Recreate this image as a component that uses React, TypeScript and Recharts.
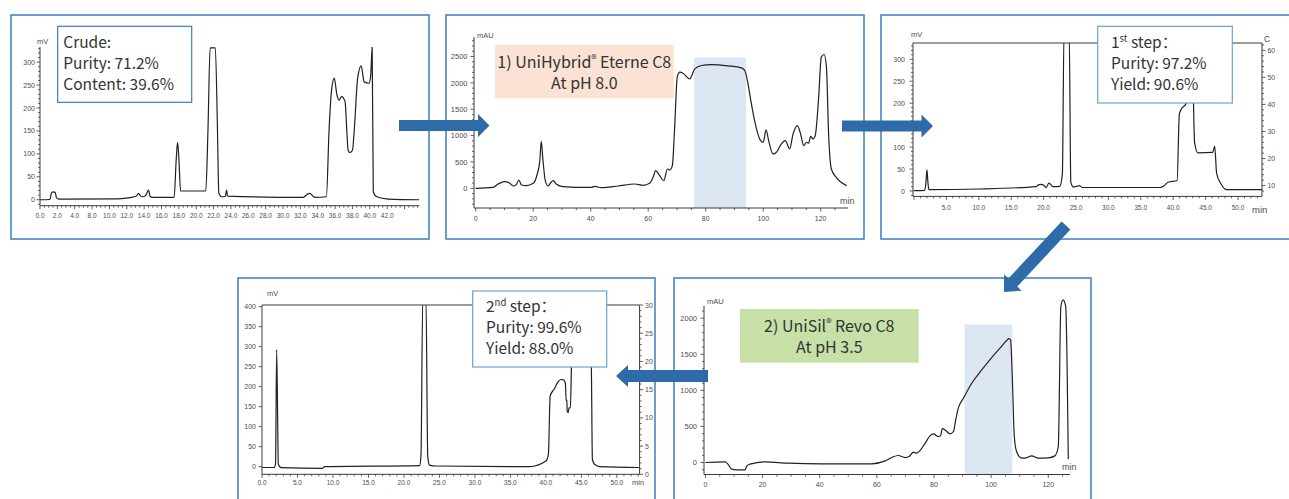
import React from 'react';
import { LineChart, Line, XAxis, YAxis, ReferenceArea, ReferenceLine } from 'recharts';

// ---------- Panel 1: crude (x in tick-position units; labels as printed) ----------
const crudeTime = [0, 1.15, 1.3, 1.5, 1.75, 1.9, 2.2, 9, 10.4, 11.1, 11.35, 11.6, 11.9, 12.2, 12.5, 12.7, 13, 15.45, 15.7, 15.85, 16, 16.2, 19.1, 19.35, 19.6, 20.2, 20.45, 20.6, 20.9, 21.35, 21.5, 21.6, 30.3, 30.8, 31.1, 31.5, 31.7, 33.0, 33.3, 33.6, 33.9, 34.2, 34.45, 34.75, 35.15, 35.35, 35.5, 35.7, 36.0, 36.2, 36.6, 37.0, 37.35, 37.9, 38.1, 38.27, 38.4, 38.8, 40.1, 43.7];
const crudeSignal = [0, 0.5, 14, 17, 16, 4, 1.5, 2, 4.5, 8, 14, 8, 6.5, 10, 21, 7, 5, 5, 90, 125, 90, 19, 19, 150, 331, 331, 150, 15, 6.5, 7, 21, 8, 5, 12, 14, 7, 5, 6.5, 150, 240, 265, 230, 217, 225, 214, 150, 108, 103, 108, 150, 265, 292, 257, 254, 270, 333, 17, 6.5, 1.5, 0];
const crudeTickLabels = ['0.0', '2.0', '4.0', '8.0', '10.0', '12.0', '14.0', '16.0', '18.0', '20.0', '22.0', '24.0', '26.0', '28.0', '30.0', '32.0', '34.0', '36.0', '38.0', '40.0', '42.0'];

// ---------- Panel 2: UniHybrid Eterne C8 prep ----------
const hybTime = [0, 6, 7.8, 10, 11.8, 13, 14.1, 15, 15.9, 17.6, 20, 21.4, 22.3, 22.8, 23.4, 24.2, 25.2, 26, 26.9, 28, 30.4, 35.6, 40.2, 41.4, 43.7, 49.5, 55.3, 58.2, 60.5, 61.7, 62.6, 64, 65.4, 66.7, 67.5, 68.4, 69.2, 70.1, 71, 72.1, 74.4, 76.2, 78.5, 82, 87.8, 92.4, 93.6, 94.5, 95.7, 97, 99.1, 100, 101, 101.9, 103.4, 104.6, 106.3, 107.7, 109.2, 110.4, 111.9, 113, 114.1, 115, 115.8, 116.5, 117.3, 118.1, 119.3, 120.2, 121.2, 122, 122.8, 123.7, 125.4, 129];
const hybSignal = [0, 19, 82, 127, 100, 44, 70, 158, 63, 51, 95, 272, 525, 893, 525, 146, 44, 101, 146, 82, 32, 19, 19, 38, 13, 44, 82, 57, 95, 209, 335, 240, 146, 367, 348, 430, 1158, 2108, 2203, 2184, 2076, 2266, 2330, 2348, 2323, 2285, 2234, 2045, 1665, 1285, 905, 874, 1108, 905, 652, 684, 842, 905, 747, 1032, 1190, 1032, 810, 874, 855, 988, 937, 1000, 1728, 2488, 2538, 2298, 968, 367, 209, 51];
const hybCut = [76, 94, 2480];

// ---------- Panel 3: 1st step analysis ----------
const step1Time = [0, 1.65, 1.85, 2.0, 2.15, 2.3, 10, 18.9, 19.2, 19.6, 20.1, 20.4, 20.8, 21.1, 21.4, 22.5, 22.9, 23.15, 23.95, 24.2, 24.6, 25.2, 25.5, 26, 37.9, 38.6, 39.2, 40.6, 40.95, 41.2, 42, 42.5, 43, 43.3, 43.8, 46.1, 46.4, 46.7, 47.3, 48.2, 53.7];
const step1Signal = [1, 1.5, 20, 48, 20, 3, 4.5, 10, 14, 15, 12, 7.6, 18, 15, 10, 10.6, 40, 360, 360, 20, 9, 11, 12, 8, 8, 12, 20, 24, 175, 185, 200, 260, 260, 110, 87, 88, 102, 40, 18, 3, 3];

// ---------- Panel 4: 2nd step analysis ----------
const step2Time = [0, 1.7, 1.9, 2.07, 2.3, 2.7, 8.55, 8.8, 22.2, 22.4, 22.65, 23.1, 23.35, 23.6, 24.5, 37.7, 40.0, 40.35, 40.6, 41.2, 41.7, 42.1, 42.5, 42.75, 42.85, 42.95, 43.0, 43.15, 43.25, 43.45, 43.6, 44.2, 45.8, 46.4, 46.55, 46.85, 47.6, 53.2];
const step2Signal = [-2, -2, 6, 293, 6, -2.5, -4, 0, 2.5, 27, 420, 420, 27, 4, 1.7, 0, 14, 30, 177, 195, 212, 218, 217, 208, 165, 167, 139, 135, 147, 147, 250, 420, 420, 249, 18, 6, 0, -2];

// ---------- Panel 5: UniSil Revo C8 prep ----------
const revoTime = [0, 6.9, 7.8, 9.2, 11, 13.9, 14.5, 15.6, 20.9, 29, 40.7, 58.2, 62.9, 65.2, 67.5, 69.9, 71.3, 72.8, 73.9, 75.1, 76.9, 78.6, 79.8, 81.5, 82.3, 82.9, 84.1, 85.6, 86.8, 87.6, 88.5, 90.3, 93.2, 96.7, 100.2, 103.1, 105.4, 106.2, 106.8, 107.4, 108.1, 108.9, 110.7, 111.8, 114.2, 116.5, 120, 122.3, 123.5, 124.4, 125.2, 126.1, 127];
const revoSignal = [0, 9, -18, -92, -102, -102, -46, -23, 9, -9, -18, -18, 23, 69, 97, 69, 83, 143, 129, 166, 268, 370, 397, 360, 370, 471, 443, 397, 430, 591, 753, 891, 1099, 1284, 1455, 1584, 1691, 1718, 1700, 1192, 360, 152, 60, 60, 92, 60, 65, 92, 222, 2162, 2254, 2162, 46];
const revoCut = [90.7, 107.4, 1912];

// ---------- text ----------
const crudeLines = ['Crude:', 'Purity: 71.2%', 'Content: 39.6%'];
const step1Lines = ['Purity: 97.2%', 'Yield: 90.6%'];
const step2Lines = ['Purity: 99.6%', 'Yield: 88.0%'];

const AX = '#3a3a3a';
const LINE = '#231f20';
const TICK = '#4d4d4d';
const TF = '"Liberation Sans", Arial, sans-serif';
const BF = '"Noto Sans CJK SC", "Noto Sans", sans-serif';
const BLUE = '#3a7fc2';
const LIGHTBLUE = '#66a3d9';
const ARROW = '#2e6ba8';
const SHADE = '#dce7f3';

const rows = (t: number[], v: number[]) => t.map((x, i) => ({ t: x, v: v[i] }));
const steps = (a: number, b: number, s: number) => {
  const out: number[] = [];
  for (let k = 0; a + k * s <= b + 1e-9; k++) out.push(Math.round((a + k * s) * 1000) / 1000);
  return out;
};
const isMult = (v: number, m: number) => Math.abs(v / m - Math.round(v / m)) < 1e-6;

type Lab = (v: number) => string | null;

function makeTick(side: 'left' | 'right' | 'bottom', label: Lab, fs: number, gap: number) {
  return (props: any) => {
    const { x, y, payload } = props;
    const text = label(payload.value);
    const major = text !== null;
    const len = major ? 3.5 : 2;
    if (side === 'left') {
      return (
        <g>
          <line x1={x} y1={y} x2={x - len} y2={y} stroke={AX} strokeWidth={0.8} />
          {major && text !== '' && (
            <text x={x - gap} y={y + fs * 0.36} textAnchor="end" fontSize={fs} fill={TICK} fontFamily={TF}>{text}</text>
          )}
        </g>
      );
    }
    if (side === 'right') {
      return (
        <g>
          <line x1={x} y1={y} x2={x + len} y2={y} stroke={AX} strokeWidth={0.8} />
          {major && text !== '' && (
            <text x={x + gap} y={y + fs * 0.36} textAnchor="start" fontSize={fs} fill={TICK} fontFamily={TF}>{text}</text>
          )}
        </g>
      );
    }
    return (
      <g>
        <line x1={x} y1={y} x2={x} y2={y + len} stroke={AX} strokeWidth={0.8} />
        {major && text !== '' && (
          <text x={x} y={y + gap} textAnchor="middle" fontSize={fs * 0.93} fill={TICK} fontFamily={TF}>{text}</text>
        )}
      </g>
    );
  };
}

interface PanelProps {
  rect: { x: number; y: number; w: number; h: number };
  data: { t: number; v: number }[];
  xDomain: [number, number];
  yDomain: [number, number];
  xTicks: number[];
  xLabel: Lab;
  yTicks: number[];
  yLabel: Lab;
  rDomain?: [number, number];
  rTicks?: number[];
  rLabel?: Lab;
  frameTop?: boolean;
  shade?: number[];
  yAxisTop?: number;
  fs: number;
  xGap: number;
  yGap: number;
}

function Panel(p: PanelProps) {
  const L = 40, T = 10, B = 26;
  const R = p.rDomain ? 40 : 6;
  return (
    <div style={{ position: 'absolute', left: p.rect.x - L, top: p.rect.y - T }}>
      <LineChart
        width={L + p.rect.w + R}
        height={T + p.rect.h + B}
        data={p.data}
        margin={{ top: T, right: p.rDomain ? 0 : R, bottom: 0, left: 0 }}
      >
        <XAxis
          dataKey="t" type="number" domain={p.xDomain} allowDataOverflow ticks={p.xTicks} interval={0}
          tickSize={0} tickMargin={0} tickLine={false} axisLine={{ stroke: AX, strokeWidth: 1 }} height={B}
          tick={makeTick('bottom', p.xLabel, p.fs, p.xGap)}
        />
        <YAxis
          yAxisId="l" type="number" domain={p.yDomain} allowDataOverflow ticks={p.yTicks} interval={0}
          tickSize={0} tickMargin={0} tickLine={false}
          axisLine={p.yAxisTop === undefined ? { stroke: AX, strokeWidth: 1 } : false} width={L}
          tick={makeTick('left', p.yLabel, p.fs, p.yGap)}
        />
        {p.rDomain && (
          <YAxis
            yAxisId="r" orientation="right" type="number" domain={p.rDomain} allowDataOverflow ticks={p.rTicks} interval={0}
            tickSize={0} tickMargin={0} tickLine={false} axisLine={{ stroke: AX, strokeWidth: 1 }} width={R}
            tick={makeTick('right', p.rLabel as Lab, p.fs, 5.5)}
          />
        )}
        {p.shade && (
          <ReferenceArea yAxisId="l" x1={p.shade[0]} x2={p.shade[1]} y1={p.yDomain[0]} y2={p.shade[2]} fill={SHADE} fillOpacity={1} stroke="none" />
        )}
        {p.frameTop && <ReferenceLine yAxisId="l" y={p.yDomain[1]} stroke={AX} strokeWidth={1} />}
        {p.yAxisTop !== undefined && (
          <ReferenceLine
            yAxisId="l"
            segment={[{ x: p.xDomain[0], y: p.yDomain[0] }, { x: p.xDomain[0], y: p.yAxisTop }]}
            stroke={AX} strokeWidth={1}
          />
        )}
        <Line yAxisId="l" dataKey="v" type="monotone" stroke={LINE} strokeWidth={1.2} dot={false} isAnimationActive={false} />
      </LineChart>
    </div>
  );
}

function arrowPts(x1: number, y1: number, x2: number, y2: number, sw: number, hw: number, hl: number) {
  const dx = x2 - x1, dy = y2 - y1, len = Math.hypot(dx, dy);
  const ux = dx / len, uy = dy / len, nx = -uy, ny = ux;
  const bx = x2 - ux * hl, by = y2 - uy * hl;
  const pts = [
    [x1 + nx * sw, y1 + ny * sw], [bx + nx * sw, by + ny * sw], [bx + nx * hw, by + ny * hw], [x2, y2],
    [bx - nx * hw, by - ny * hw], [bx - nx * sw, by - ny * sw], [x1 - nx * sw, y1 - ny * sw],
  ];
  return pts.map((q) => q.map((n) => n.toFixed(1)).join(',')).join(' ');
}

const unit = (x: number, y: number, s: string, fs = 7.5) => (
  <text x={x} y={y} fontSize={fs} fill={TICK} fontFamily={TF}>{s}</text>
);

export default function App() {
  return (
    <div style={{ position: 'absolute', left: 0, top: 0, width: 1289, height: 499, background: '#fff', overflow: 'hidden' }}>
      <Panel
        rect={{ x: 40, y: 47, w: 379.3, h: 158.7 }}
        data={rows(crudeTime, crudeSignal)}
        xDomain={[0, 43.7]} yDomain={[-13, 333]}
        xTicks={steps(0, 43.5, 0.5)}
        xLabel={(v) => (isMult(v, 2) ? (v <= 40 ? crudeTickLabels[Math.round(v / 2)] : '') : null)}
        yTicks={steps(-10, 330, 10)}
        yLabel={(v) => (isMult(v, 50) && v >= 0 ? String(v) : null)}
        fs={7} xGap={12} yGap={5}
      />
      <Panel
        rect={{ x: 474, y: 37, w: 374, h: 171 }}
        data={rows(hybTime, hybSignal)}
        xDomain={[-0.6, 129.5]} yDomain={[-373, 2870]}
        xTicks={steps(0, 125, 5)}
        xLabel={(v) => (isMult(v, 20) ? String(v) : null)}
        yTicks={steps(-300, 2800, 100)}
        yLabel={(v) => (isMult(v, 500) && v >= 0 ? String(v) : null)}
        shade={hybCut}
        fs={7.5} xGap={13} yGap={6.5}
      />
      <Panel
        rect={{ x: 913.3, y: 43.3, w: 349, h: 153.4 }}
        data={rows(step1Time, step1Signal)}
        xDomain={[-0.15, 53.7]} yDomain={[-12.3, 337]}
        xTicks={steps(0, 53, 1)}
        xLabel={(v) => (isMult(v, 5) ? (v > 0 ? v.toFixed(1) : '') : null)}
        yTicks={steps(-10, 330, 10)}
        yLabel={(v) => (isMult(v, 50) && v >= 0 ? String(v) : null)}
        rDomain={[6, 62.7]} rTicks={steps(8, 62, 2)}
        rLabel={(v) => (isMult(v, 10) ? String(v) : null)}
        frameTop
        fs={7} xGap={14} yGap={8}
      />
      <Panel
        rect={{ x: 261.7, y: 305, w: 377.6, h: 169.3 }}
        data={rows(step2Time, step2Signal)}
        xDomain={[0, 53.2]} yDomain={[-19, 404.25]}
        xTicks={steps(0, 53, 1)}
        xLabel={(v) => (isMult(v, 5) ? v.toFixed(1) : null)}
        yTicks={steps(0, 400, 50)}
        yLabel={(v) => String(v)}
        rDomain={[0, 30]} rTicks={steps(0, 30, 1)}
        rLabel={(v) => (isMult(v, 5) ? String(v) : null)}
        frameTop
        fs={7} xGap={10.5} yGap={6}
      />
      <Panel
        rect={{ x: 704.3, y: 297.5, w: 366, h: 176.5 }}
        data={rows(revoTime, revoSignal)}
        xDomain={[-0.5, 127.6]} yDomain={[-166, 2280]}
        xTicks={steps(0, 125, 5)}
        xLabel={(v) => (isMult(v, 20) ? String(v) : null)}
        yTicks={steps(-100, 2100, 100)}
        yLabel={(v) => (isMult(v, 500) && v >= 0 ? String(v) : null)}
        shade={revoCut}
        yAxisTop={2172}
        fs={7.5} xGap={12} yGap={7}
      />

      <svg width={1289} height={499} style={{ position: 'absolute', left: 0, top: 0, pointerEvents: 'none' }}>
        {/* panel borders */}
        <rect x={11} y={15} width={418} height={224} fill="none" stroke={BLUE} strokeWidth={1.5} />
        <rect x={446} y={15} width={418} height={224} fill="none" stroke={BLUE} strokeWidth={1.5} />
        <rect x={881} y={15} width={430} height={224} fill="none" stroke={BLUE} strokeWidth={1.5} />
        <rect x={238} y={278} width={417} height={240} fill="none" stroke={BLUE} strokeWidth={1.5} />
        <rect x={674} y={278} width={417} height={240} fill="none" stroke={BLUE} strokeWidth={1.5} />

        {/* units */}
        {unit(37, 44, 'mV')}
        {unit(477, 38, 'mAU')}
        {unit(840, 204, 'min', 9)}
        {unit(911, 37, 'mV')}
        {unit(1264, 42, 'C', 8.5)}
        {unit(1252, 213, 'min', 9.5)}
        {unit(267, 295.5, 'mV')}
        {unit(632, 485, 'min')}
        {unit(707, 304, 'mAU')}
        {unit(1062, 470, 'min', 9)}

        {/* Crude box */}
        <rect x={57.7} y={26.3} width={134} height={76} fill="#fff" stroke={BLUE} strokeWidth={1.2} />
        {crudeLines.map((s, i) => (
          <text key={s} x={63.3} y={47.5 + i * 21.3} fontSize={15.5} fill="#333" fontFamily={BF}>{s}</text>
        ))}

        {/* Pink box */}
        <rect x={495} y={45} width={178.7} height={53.3} fill="#fbe2d5" />
        <text x={584.3} y={68} fontSize={16} fill="#333" fontFamily={BF} textAnchor="middle">
          1) UniHybrid<tspan fontSize={11} dy={-5}>®</tspan><tspan dy={5}> Eterne C8</tspan>
        </text>
        <text x={584.3} y={89} fontSize={16} fill="#333" fontFamily={BF} textAnchor="middle">At pH 8.0</text>

        {/* 1st step box */}
        <rect x={1097.7} y={26.3} width={134.6} height={76.7} fill="#fff" stroke={LIGHTBLUE} strokeWidth={1.2} />
        <text x={1111} y={47.5} fontSize={15.5} fill="#333" fontFamily={BF}>
          1<tspan fontSize={9.5} dy={-6}>st</tspan><tspan dy={6}> step：</tspan>
        </text>
        {step1Lines.map((s, i) => (
          <text key={s} x={1111} y={68.5 + i * 21} fontSize={15.5} fill="#333" fontFamily={BF}>{s}</text>
        ))}

        {/* 2nd step box */}
        <rect x={472.7} y={291} width={134} height={76} fill="#fff" stroke={LIGHTBLUE} strokeWidth={1.2} />
        <text x={486} y={312} fontSize={15.5} fill="#333" fontFamily={BF}>
          2<tspan fontSize={9.5} dy={-6}>nd</tspan><tspan dy={6}> step：</tspan>
        </text>
        {step2Lines.map((s, i) => (
          <text key={s} x={486} y={333.3 + i * 21} fontSize={15.5} fill="#333" fontFamily={BF}>{s}</text>
        ))}

        {/* Green box */}
        <rect x={740} y={309} width={178.7} height={53.7} fill="#c6e0a8" />
        <text x={829.3} y={332} fontSize={16} fill="#333" fontFamily={BF} textAnchor="middle">
          2) UniSil<tspan fontSize={11} dy={-5}>®</tspan><tspan dy={5}> Revo C8</tspan>
        </text>
        <text x={829.3} y={353} fontSize={16} fill="#333" fontFamily={BF} textAnchor="middle">At pH 3.5</text>

        {/* arrows */}
        <polygon points={arrowPts(399, 125.5, 489.5, 125.5, 5.5, 11.5, 11.5)} fill={ARROW} />
        <polygon points={arrowPts(842, 126, 933, 126, 5.5, 11.5, 11.5)} fill={ARROW} />
        <polygon points={arrowPts(1066, 225.5, 1004, 292, 6, 12, 13)} fill={ARROW} />
        <polygon points={arrowPts(708, 376, 616, 376, 6, 11, 12)} fill={ARROW} />
      </svg>
    </div>
  );
}
